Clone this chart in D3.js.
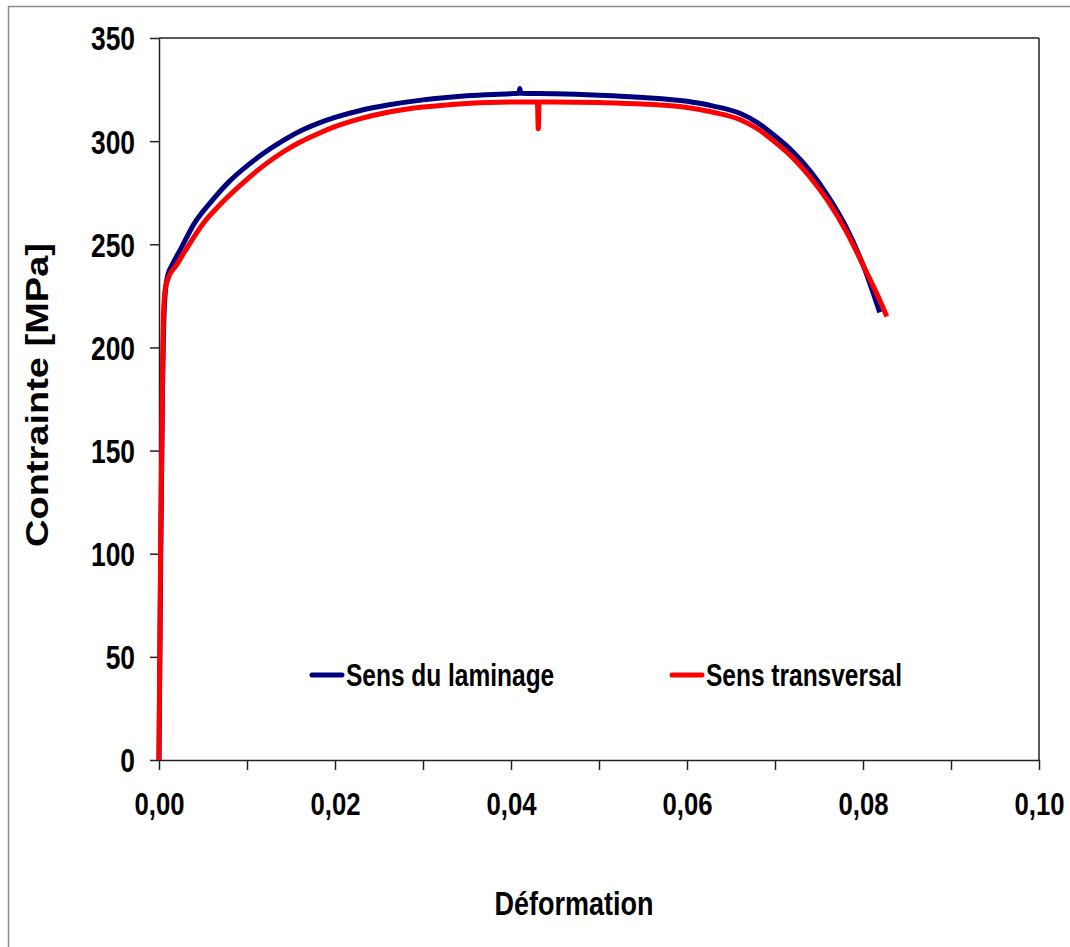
<!DOCTYPE html>
<html><head><meta charset="utf-8">
<script src="https://cdn.jsdelivr.net/npm/d3@7"></script>
<style>
html,body{margin:0;padding:0;background:#fff;}
svg{display:block;}
.lbl{font-family:"Liberation Sans",Arial,sans-serif;font-weight:bold;fill:#000;}
</style></head>
<body><svg id="c" width="1070" height="947"></svg>
<script>
// ---- data ----
const seriesNames = ["Sens du laminage", "Sens transversal"];
const laminageStrain = [0,0.0002,0.0004,0.0005,0.0007,0.001,0.0015,0.0025,0.004,0.006,0.008,0.010,0.012,0.014,0.016,0.018,0.020,0.023,0.026,0.030,0.035,0.040,0.0409,0.0410,0.0411,0.045,0.050,0.055,0.060,0.063,0.066,0.068,0.070,0.072,0.074,0.076,0.078,0.080,0.0819];
const laminageStress = [0,100,180,205,226,235,240,248,260,271,280.5,288,294.5,300,304.8,308.5,311.5,315,317.5,320,322,323,323.2,325.5,323.2,323,322.3,321.2,319.3,317,313.5,309,302.5,295,285.5,273.5,259,240,217];
const transStrain = [0,0.0001,0.0002,0.0004,0.0005,0.0007,0.001,0.002,0.003,0.005,0.007,0.010,0.012,0.014,0.016,0.018,0.020,0.023,0.026,0.030,0.035,0.040,0.0430,0.0431,0.0432,0.045,0.050,0.055,0.060,0.063,0.066,0.068,0.070,0.072,0.074,0.076,0.078,0.080,0.082,0.0827];
const transStress = [0,60,110,185,215,228,233,240,247,260,269.5,281.5,288.5,294.5,299.5,303.5,307,311,314,316.5,318.3,319,319,306,319,319,318.7,318,316.3,314,310.5,306,299.5,292,282.5,271,257,240,222,215];
const yTicks = [0,50,100,150,200,250,300,350];
const xTicks = [0,0.01,0.02,0.03,0.04,0.05,0.06,0.07,0.08,0.09,0.10];
const xLabelTicks = [0,0.02,0.04,0.06,0.08,0.10];
const xTitle = "Déformation";
const yTitle = "Contrainte [MPa]";

const svg = d3.select("#c");
// outer frame
svg.append("path").attr("d","M8.5,947 L8.5,6.5 L1070,6.5").attr("fill","none").attr("stroke","#8a8a8a").attr("stroke-width",1.5);

const x = d3.scaleLinear().domain([0,0.10]).range([159,1039]);
const y = d3.scaleLinear().domain([0,350]).range([760,38]);

// plot box top/right
svg.append("line").attr("x1",x(0)).attr("x2",x(0.10)).attr("y1",y(350)).attr("y2",y(350)).attr("stroke","#222").attr("stroke-width",1.5);
svg.append("line").attr("x1",x(0.10)).attr("x2",x(0.10)).attr("y1",y(350)).attr("y2",y(0)).attr("stroke","#222").attr("stroke-width",1.5);

// y axis
const gy = svg.append("g").attr("transform",`translate(${x(0)},0)`)
  .call(d3.axisLeft(y).tickValues(yTicks).tickSize(9).tickSizeOuter(0).tickPadding(15).tickFormat(d3.format("d")));
gy.select(".domain").attr("stroke","#222").attr("stroke-width",1.5);
gy.selectAll(".tick line").attr("stroke","#222").attr("stroke-width",1.5);
gy.selectAll(".tick text").attr("class","lbl").style("font-size","26.4px")
  .attr("x",0).attr("y",0).attr("dy","0.36em").attr("transform","translate(-24,0) scale(1,1.25)");

// x axis
const gx = svg.append("g").attr("transform",`translate(0,${y(0)})`)
  .call(d3.axisBottom(x).tickValues(xTicks).tickSize(10).tickSizeOuter(0).tickPadding(20)
    .tickFormat(d => xLabelTicks.some(v => Math.abs(v-d)<1e-9) ? d3.format(".2f")(d).replace(".",",") : ""));
gx.select(".domain").attr("stroke","#222").attr("stroke-width",1.5);
gx.selectAll(".tick line").attr("stroke","#222").attr("stroke-width",1.5);
gx.selectAll(".tick text").attr("class","lbl").style("font-size","25.7px")
  .attr("x",0).attr("y",0).attr("dy",0).attr("transform","translate(0,55) scale(1,1.25)");

// curves
const line = d3.line().x(d=>x(d[0])).y(d=>y(d[1])).curve(d3.curveMonotoneX);
const blue = laminageStrain.map((s,i)=>[s,laminageStress[i]]);
const red = transStrain.map((s,i)=>[s,transStress[i]]);
svg.append("path").datum(blue).attr("d",line).attr("fill","none").attr("stroke","#00007f").attr("stroke-width",5).attr("stroke-linejoin","round");
svg.append("path").datum(red).attr("d",line).attr("fill","none").attr("stroke","#ff0000").attr("stroke-width",5).attr("stroke-linejoin","round");

// legend
const legend = [
  {name: seriesNames[0], color:"#00007f", x0:312, fs:24.5},
  {name: seriesNames[1], color:"#ff0000", x0:672, fs:24.5}
];
legend.forEach(l=>{
  svg.append("line").attr("x1",l.x0).attr("x2",l.x0+30).attr("y1",675).attr("y2",675)
    .attr("stroke",l.color).attr("stroke-width",5).attr("stroke-linecap","round");
  svg.append("text").attr("class","lbl").attr("transform",`translate(${l.x0+34},686) scale(1,1.25)`)
    .style("font-size",l.fs+"px").text(l.name);
});

// titles
svg.append("text").attr("class","lbl").attr("transform","translate(574,915) scale(1,1.25)").attr("text-anchor","middle")
  .style("font-size","27px").text(xTitle);
svg.append("text").attr("transform","translate(48,395) rotate(-90)").attr("text-anchor","middle")
  .style("font-family","'Liberation Sans',Arial,sans-serif").style("font-weight","bold").style("font-size","31px")
  .attr("textLength",304).attr("lengthAdjust","spacingAndGlyphs").text(yTitle);
</script></body></html>
